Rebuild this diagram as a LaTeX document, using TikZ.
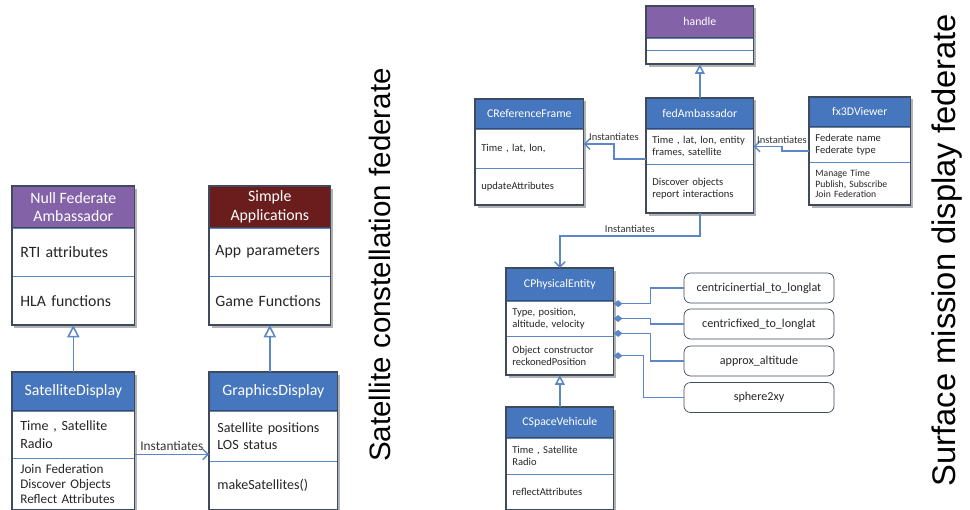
\documentclass[tikz,border=0pt]{standalone}
\usepackage{fontspec}
\setmainfont{Carlito}
\newfontfamily\arialfont{Liberation Sans}
\usetikzlibrary{positioning,arrows.meta,backgrounds}

\definecolor{umlblue}{HTML}{4677BE}
\definecolor{umlpurple}{HTML}{8462A8}
\definecolor{umlred}{HTML}{6B1D1D}
\definecolor{frameline}{HTML}{3F4B5B}
\definecolor{divline}{HTML}{5B86C2}
\definecolor{wireblue}{HTML}{5B87C6}
\def\px{0.02cm}

\begin{document}
\begin{tikzpicture}[x=\px,y=-\px]
    \tikzstyle{head}=[draw=frameline, anchor=north west, inner sep=0pt, align=center, text=white]
    \tikzstyle{sec}=[draw=divline, fill=white, inner xsep=0.16cm, inner ysep=0pt, align=left, text=black!85,
        execute at begin node={\hyphenpenalty=10000\exhyphenpenalty=10000}]
    \tikzstyle{rsec}=[sec, inner xsep=0.12cm]
    \tikzstyle{big}=[font=\fontsize{9}{10.4}\selectfont]
    \tikzstyle{mid}=[font=\fontsize{8}{10}\selectfont]
    \tikzstyle{tiny}=[font=\fontsize{7.5}{8.6}\selectfont]
    \tikzstyle{rhead}=[font=\fontsize{6.7}{8}\selectfont]
    \tikzstyle{rtext}=[font=\fontsize{6}{7.2}\selectfont]
    \tikzstyle{rtiny}=[font=\fontsize{5.5}{6.2}\selectfont]
    \tikzstyle{frame}=[draw=frameline, line width=0.7pt]
    \tikzstyle{inherit}=[draw=wireblue, line width=0.9pt, -{Triangle[open, length=7pt, width=7pt]}]
    \tikzstyle{rinherit}=[inherit, -{Triangle[open, length=5.5pt, width=5.5pt]}]
    \tikzstyle{inst}=[draw=wireblue, line width=0.8pt, -{Straight Barb[length=3pt, width=6pt]}]
    \tikzstyle{comp}=[draw=wireblue, line width=0.7pt, {Diamond[length=5pt, width=4pt, fill=wireblue]}-]
    \tikzstyle{instlabel}=[font=\fontsize{7.6}{9}\selectfont, text=black!80, inner sep=1.5pt]
    \tikzstyle{func}=[draw=frameline, fill=white, rounded corners=0.13cm, minimum width=3cm, minimum height=0.6cm, font=\fontsize{6.9}{8}\selectfont, text=black!85]

    \useasboundingbox (0,0) rectangle (970,510);

    % satellite constellation federate
    \node[head, big, fill=umlpurple, minimum width=2.44cm, minimum height=0.82cm] (nfa) at (12,186) {Null Federate\\Ambassador};
    \node[sec, big, text width=2.12cm, minimum height=0.96cm, below=0pt of nfa] (nfa-a) {RTI attributes};
    \node[sec, big, text width=2.12cm, minimum height=0.96cm, below=0pt of nfa-a] (nfa-m) {HLA functions};

    \node[head, big, fill=umlred, minimum width=2.42cm, minimum height=0.82cm] (sapp) at (209,186) {Simple\\Applications};
    \node[sec, big, inner xsep=0.12cm, text width=2.18cm, minimum height=0.96cm, below=0pt of sapp] (sapp-a) {App parameters};
    \node[sec, big, inner xsep=0.12cm, text width=2.18cm, minimum height=0.96cm, below=0pt of sapp-a] (sapp-m) {Game Functions};

    \node[head, big, fill=umlblue, minimum width=2.44cm, minimum height=0.76cm] (sd) at (12,372) {SatelliteDisplay};
    \node[sec, mid, text width=2.12cm, minimum height=0.94cm, below=0pt of sd] (sd-a) {Time , Satellite\\Radio};
    \node[sec, tiny, text width=2.12cm, minimum height=1.02cm, below=0pt of sd-a] (sd-m) {Join Federation\\Discover Objects\\Reflect Attributes};

    \node[head, big, fill=umlblue, minimum width=2.56cm, minimum height=0.76cm] (gd) at (209,372) {GraphicsDisplay};
    \node[sec, mid, text width=2.24cm, minimum height=1.00cm, below=0pt of gd] (gd-a) {Satellite positions\\LOS status};
    \node[sec, mid, text width=2.24cm, minimum height=0.96cm, below=0pt of gd-a] (gd-m) {makeSatellites()};

    % surface mission display federate
    \node[head, rhead, fill=umlpurple, minimum width=2.14cm, minimum height=0.62cm] (handle) at (646,6) {handle};
    \node[sec, minimum width=2.14cm, minimum height=0.24cm, below=0pt of handle] (handle-a) {};
    \node[sec, minimum width=2.14cm, minimum height=0.26cm, below=0pt of handle-a] (handle-m) {};

    \node[head, rhead, fill=umlblue, minimum width=2.14cm, minimum height=0.60cm] (fed) at (646,98) {fedAmbassador};
    \node[rsec, rtext, text width=1.90cm, minimum height=0.70cm, below=0pt of fed] (fed-a) {Time , lat, lon, entity\\frames, satellite};
    \node[rsec, rtext, text width=1.90cm, minimum height=0.96cm, below=0pt of fed-a] (fed-m) {Discover objects\\report interactions};

    \node[head, rhead, fill=umlblue, minimum width=2.16cm, minimum height=0.58cm] (cref) at (475,99) {CReferenceFrame};
    \node[rsec, rtext, text width=1.92cm, minimum height=0.78cm, below=0pt of cref] (cref-a) {Time , lat, lon,};
    \node[rsec, rtext, text width=1.92cm, minimum height=0.72cm, below=0pt of cref-a] (cref-m) {updateAttributes};

    \node[head, rhead, fill=umlblue, minimum width=2.02cm, minimum height=0.58cm] (fx) at (809,97) {fx3DViewer};
    \node[rsec, rtext, text width=1.78cm, minimum height=0.70cm, below=0pt of fx] (fx-a) {Federate name\\Federate type};
    \node[rsec, rtiny, text width=1.78cm, minimum height=0.84cm, below=0pt of fx-a] (fx-m) {Manage Time\\Publish, Subscribe\\Join Federation};

    \node[head, rhead, fill=umlblue, minimum width=2.14cm, minimum height=0.64cm] (cpe) at (506,268) {CPhysicalEntity};
    \node[rsec, rtext, text width=1.90cm, minimum height=0.70cm, below=0pt of cpe] (cpe-a) {Type, position,\\altitude, velocity};
    \node[rsec, rtext, text width=1.90cm, minimum height=0.76cm, below=0pt of cpe-a] (cpe-m) {Object constructor\\reckonedPosition};

    \node[head, rhead, fill=umlblue, minimum width=2.14cm, minimum height=0.60cm] (csv) at (506,407) {CSpaceVehicule};
    \node[rsec, rtext, text width=1.90cm, minimum height=0.72cm, below=0pt of csv] (csv-a) {Time , Satellite\\Radio};
    \node[rsec, rtext, text width=1.90cm, minimum height=0.70cm, below=0pt of csv-a] (csv-m) {reflectAttributes};

    \foreach \name / \y / \txt in {1/288/centricinertial\_to\_longlat, 2/324/centricfixed\_to\_longlat, 3/361/approx\_altitude, 4/397.5/sphere2xy}
        \node[func] (f\name) at (759,\y) {\txt};

    % outer frames and shadows
    \foreach \c in {nfa,sapp,sd,gd,handle,fed,cref,fx,cpe,csv}
        \draw[frame] (\c.north west) rectangle (\c-m.south east);
    \begin{scope}[on background layer]
        \foreach \c in {nfa,sapp,sd,gd,handle,fed,cref,fx,cpe,csv}
            \fill[black!30] ([shift={(0.05cm,-0.05cm)}]\c.north west) rectangle ([shift={(0.05cm,-0.05cm)}]\c-m.south east);
    \end{scope}

    % connectors
    \draw[inherit] (sd.north) -- (nfa-m.south);
    \draw[inherit] (gd.north -| sapp-m.south) -- (sapp-m.south);
    \draw[inst] ([yshift=0.08cm]sd-a.south east) coordinate (i1) -- (i1 -| gd-a.west)
        node[instlabel, midway, above] {Instantiates};

    \draw[rinherit] (fed.north) -- (handle-m.south);
    \draw[rinherit] (csv.north) -- (cpe-m.south);
    \draw[inst] ([yshift=-0.25cm]fed-a.west) -- ++(-32,0) |- node[instlabel, rtext, pos=0.5, above] {Instantiates} ([yshift=0.09cm]cref-a.east);
    \draw[inst] ([yshift=-0.13cm]fx-a.west) -- ++(-27,0) |- node[instlabel, rtext, pos=0.5, above] {Instantiates} (fed-a.east);
    \draw[inst] (fed-m.south) -- ++(0,23) -| node[instlabel, rtext, pos=0.25, above] {Instantiates} (cpe.north);

    \draw[comp] ([yshift=-0.06cm]cpe-a.north east) -- ++(37,0) |- (f1.west);
    \draw[comp] (cpe-a.east) -- ++(37,0) |- (f2.west);
    \draw[comp] ([yshift=0.06cm]cpe-a.south east) -- ++(37,0) |- (f3.west);
    \draw[comp] (cpe-m.east) -- ++(30,0) |- (f4.west);

    % federate names
    \node[rotate=90, font=\arialfont\fontsize{16.8}{20}\selectfont] (lbl1) at (380,265) {Satellite constellation federate};
    \node[rotate=90, font=\arialfont\fontsize{18.6}{22}\selectfont] (lbl2) at (947,250) {Surface mission display federate};
\end{tikzpicture}
\end{document}
